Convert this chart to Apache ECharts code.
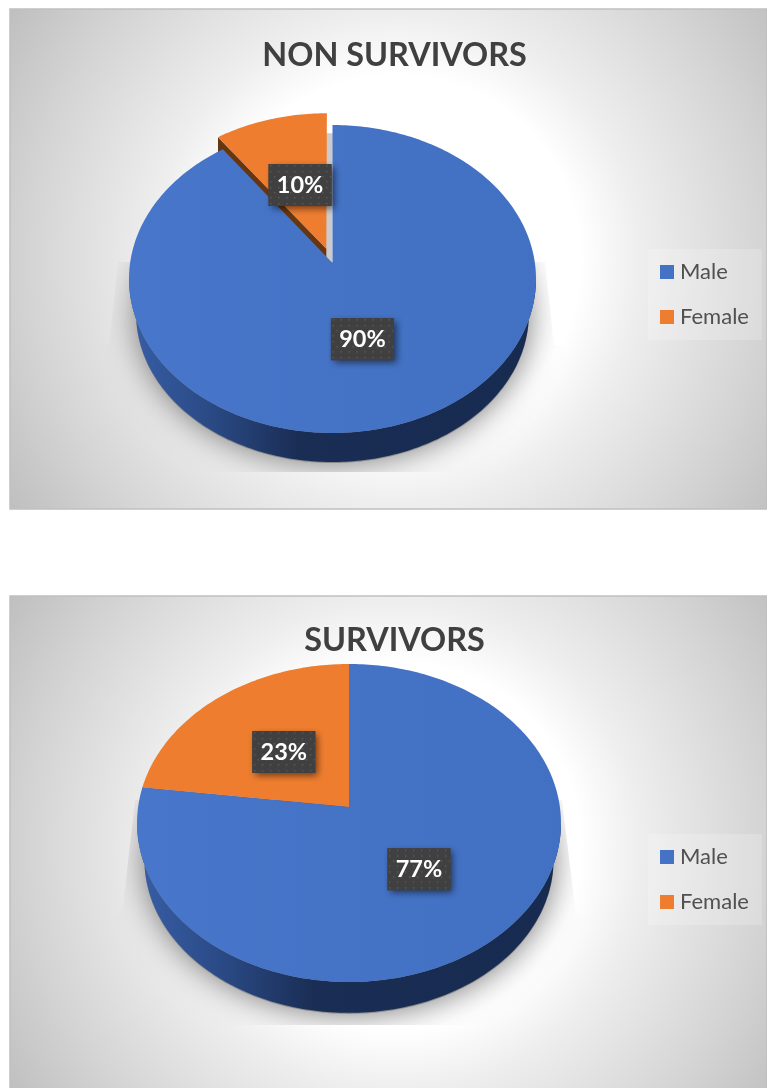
<!DOCTYPE html>
<html><head><meta charset="utf-8">
<style>html,body{margin:0;padding:0;background:#fff}#c{width:767px;height:1088px}</style>
<script src="https://cdn.jsdelivr.net/npm/echarts@6/dist/echarts.min.js"></script>
</head><body><div id="c"></div>
<script>
const categories = ['Male', 'Female'];
const nonSurvivorValues = [90, 10];
const survivorValues = [77, 23];
const titles = ['NON SURVIVORS', 'SURVIVORS'];

const BLUE = '#4472c4', ORANGE = '#ef7d2f';
// Perspective layout of each pie: tip position, projection scale and extrusion
const layouts = [
  { cx: 332.5, cy: 263, A: 202.4, B: 152.3, p: 0.1039, depth: 35, baseScale: 0.965, explode: 0.1, panel: [10, 9, 757, 500],
    titleTop: 40, legendTop: 249, maleNudge: [-3, 0], femaleNudge: [3, 4],
    shadowClip: [[118, 262], [545, 262], [554, 345], [600, 345], [600, 472], [60, 472], [60, 345], [109, 345]] },
  { cx: 349, cy: 807, A: 210.9, B: 157.4, p: 0.1006, depth: 37, baseScale: 0.965, explode: 0, panel: [10, 596, 757, 500],
    titleTop: 625, legendTop: 834, maleNudge: [-2.5, 1], femaleNudge: [2, 2],
    shadowClip: [[135, 800], [562, 800], [576, 915], [620, 915], [620, 1025], [80, 1025], [80, 915], [122, 915]] }
];

function project(L, thetaDeg, r, off, dx, dy, scale) {
  const t = thetaDeg * Math.PI / 180, s = scale || 1;
  const u = r * Math.sin(t) + off * Math.sin(off ? L._mid * Math.PI / 180 : 0);
  const v = r * Math.cos(t) + off * Math.cos(off ? L._mid * Math.PI / 180 : 0);
  const w = 1 + L.p * v;
  return [L.cx + s * L.A * u / w + (dx || 0), L.cy - s * L.B * v / w + (dy || 0)];
}
function arcPoints(L, a0, a1, r, off, dx, dy, scale) {
  const pts = [], n = Math.max(2, Math.ceil(Math.abs(a1 - a0)));
  for (let i = 0; i <= n; i++) pts.push(project(L, a0 + (a1 - a0) * i / n, r, off, dx, dy, scale));
  return pts;
}

const dots = document.createElement('canvas');
dots.width = 16; dots.height = 16;
(function () {
  const g = dots.getContext('2d');
  g.fillStyle = '#404040'; g.fillRect(0, 0, 16, 16);
  g.fillStyle = '#5c5c5c';
  [[2, 2], [10, 2], [6, 7], [14, 7], [2, 12], [10, 12]].forEach(d => g.fillRect(d[0], d[1], 1.4, 1.4));
})();

function labelGroup(L, mid, off, text, nudge) {
  const c = project(L, mid, 0.5, off);
  return { type: 'group', x: c[0] + nudge[0], y: c[1] + nudge[1], children: [
    { type: 'rect', z2: 50, shape: { x: -31.5, y: -21, width: 63, height: 42 },
      style: { fill: '#404040', shadowBlur: 7, shadowOffsetX: 3, shadowOffsetY: 3, shadowColor: 'rgba(0,0,0,0.55)' } },
    { type: 'rect', z2: 51, shape: { x: -31.5, y: -21, width: 63, height: 42 },
      style: { fill: { image: dots, repeat: 'repeat' } } },
    { type: 'text', z2: 52, style: { text, x: 0, y: 0, align: 'center', verticalAlign: 'middle',
      fill: '#fff', font: 'bold 23.5px Lato' } }
  ] };
}

function makeSeries(values, L) {
  const total = values[0] + values[1];
  const maleEnd = 360 * values[0] / total;
  const femaleMid = (maleEnd + 360) / 2 - 360;
  L._mid = femaleMid;
  const fOff = L.explode;
  const sideMin = Math.acos(-L.p) * 180 / Math.PI, sideMax = 360 - sideMin;

  const female = {
    type: 'custom', name: categories[1], coordinateSystem: 'none', silent: true,
    itemStyle: { color: ORANGE }, clip: false, animation: false, data: [values[1]],
    renderItem: function () {
      const a0 = maleEnd - 360;
      const top = [project(L, 0, 0, fOff)].concat(arcPoints(L, a0, 0, 1, fOff));
      const tip = project(L, 0, 0, fOff), corner = project(L, a0, 1, fOff);
      const children = [
        { type: 'polygon', z2: 2, shape: { points: top.map(q => [q[0] + 6, q[1] + 20]) }, style: { fill: fOff ? '#cbcbcb' : 'transparent' } },
        { type: 'polygon', z2: 3, shape: { points: [tip, corner, [corner[0], corner[1] + 29], [tip[0], tip[1] + 29]] }, style: { fill: '#673610' } },
        { type: 'polygon', z2: 4, shape: { points: top }, style: { fill: ORANGE } }
      ];
      return { type: 'group', children: children.concat(labelGroup(L, femaleMid, fOff, values[1] + '%', L.femaleNudge)) };
    }
  };
  const male = {
    type: 'custom', name: categories[0], coordinateSystem: 'none', silent: true,
    itemStyle: { color: BLUE }, clip: false, animation: false, data: [values[0]],
    renderItem: function () {
      const ring = arcPoints(L, 0, 360, 1, 0);
      const front = arcPoints(L, sideMin, sideMax, 1, 0);
      const back = arcPoints(L, sideMax, sideMin, 1, 0, 0, L.depth, L.baseScale);
      const top = [project(L, 0, 0, 0)].concat(arcPoints(L, 0, maleEnd, 1, 0));
      const sx = ring.map(q => q[0]);
      const mid = L.cx, rx = (Math.max.apply(null, sx) - Math.min.apply(null, sx)) / 2;
      const shadow = arcPoints(L, 0, 360, 1, 0, 0, L.depth + 1, L.baseScale);
      const children = [
        { type: 'polygon', z2: 1, shape: { points: shadow },
          clipPath: { type: 'polygon', shape: { points: L.shadowClip } },
          style: { fill: '#8a8a8a', shadowBlur: 32, shadowColor: '#767676' } },
        { type: 'polygon', z2: 10, shape: { points: front.concat(back) },
          style: { fill: { type: 'linear', x: mid - rx, y: 0, x2: mid + rx, y2: 0, global: true,
            colorStops: [{ offset: 0, color: '#385ea6' }, { offset: 0.2, color: '#2a4a85' }, { offset: 0.42, color: '#1a2d54' }, { offset: 1, color: '#172a50' }] } } },
        { type: 'polygon', z2: 11, shape: { points: top },
          style: { fill: { type: 'linear', x: mid - rx, y: 0, x2: mid + rx, y2: 0, global: true,
            colorStops: [{ offset: 0, color: '#4776ca' }, { offset: 1, color: '#4270c2' }] } } }
      ];
      return { type: 'group', children: children.concat(labelGroup(L, maleEnd / 2, 0, values[0] + '%', L.maleNudge)) };
    }
  };
  return [female, male];
}

function panelGraphic(L) {
  const [x, y, w, h] = L.panel;
  return { type: 'rect', z: -10, silent: true, shape: { x, y, width: w, height: h },
    style: { stroke: '#c0c0c0', lineWidth: 1.5,
      fill: { type: 'radial', x: x + w / 2 + 8, y: y + h / 2, r: 460, global: true,
        colorStops: [{ offset: 0, color: '#ffffff' }, { offset: 0.4, color: '#ffffff' }, { offset: 0.53, color: '#eeeeee' }, { offset: 0.8, color: '#d4d4d4' }, { offset: 1, color: '#bfbfbf' }] } } };
}

const chart = echarts.init(document.getElementById('c'), null, { renderer: 'canvas' });
chart.setOption({
  animation: false,
  backgroundColor: '#ffffff',
  graphic: { elements: layouts.map(panelGraphic) },
  title: titles.map((t, i) => ({ text: t, left: 394.5, top: layouts[i].titleTop, textAlign: 'center', padding: 0,
    textStyle: { color: '#404040', fontFamily: 'Lato', fontWeight: 'bold', fontSize: 32.4 } })),
  legend: layouts.map(L => ({
    data: categories.map((c, i) => ({ name: c, icon: 'rect', itemStyle: { color: i ? ORANGE : BLUE } })),
    orient: 'vertical', left: 648, top: L.legendTop, padding: [12, 13, 12, 12], itemWidth: 14, itemHeight: 14, itemGap: 23,
    selectedMode: false, backgroundColor: 'rgba(255,255,255,0.2)',
    textStyle: { color: '#505050', fontFamily: 'Lato', fontSize: 22, padding: [0, 0, 0, 1] }
  })),
  series: makeSeries(nonSurvivorValues, layouts[0]).concat(makeSeries(survivorValues, layouts[1]))
});
</script></body></html>
